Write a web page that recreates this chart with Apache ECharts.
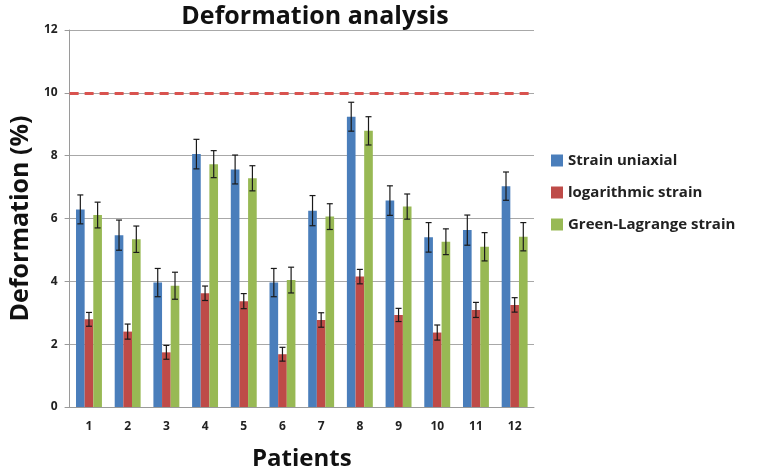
<!DOCTYPE html>
<html>
<head>
<meta charset="utf-8">
<script src="https://cdn.jsdelivr.net/npm/echarts@6/dist/echarts.min.js"></script>
<style>
  html, body { margin: 0; padding: 0; background: #fff; }
  #chart { width: 768px; height: 476px; }
</style>
</head>
<body>
<div id="chart"></div>
<script>
// Patients and measured deformation (%) per strain measure
const patients = ['1', '2', '3', '4', '5', '6', '7', '8', '9', '10', '11', '12'];
const seriesNames = ['Strain uniaxial', 'logarithmic strain', 'Green-Lagrange strain'];
const strainUniaxial = [6.29, 5.47, 3.96, 8.05, 7.56, 3.96, 6.25, 9.24, 6.57, 5.40, 5.63, 7.03];
const logarithmicStrain = [2.79, 2.40, 1.74, 3.62, 3.37, 1.68, 2.77, 4.15, 2.93, 2.37, 3.09, 3.25];
const greenLagrange = [6.11, 5.34, 3.86, 7.73, 7.28, 4.04, 6.06, 8.79, 6.38, 5.26, 5.10, 5.42];
// Standard deviations (error bar half-lengths)
const errUniaxial = [0.46, 0.48, 0.45, 0.47, 0.46, 0.45, 0.48, 0.46, 0.47, 0.47, 0.48, 0.45];
const errLogarithmic = [0.22, 0.24, 0.22, 0.23, 0.24, 0.22, 0.23, 0.23, 0.21, 0.24, 0.24, 0.23];
const errGreen = [0.41, 0.42, 0.43, 0.43, 0.40, 0.41, 0.41, 0.45, 0.40, 0.41, 0.45, 0.45];
const yTicks = [0, 2, 4, 6, 8, 10, 12];
const thresholdValue = 10;

const colors = ['#4a7ebb', '#be4b48', '#98b954'];
const categoryGap = 0.33;
const values = [strainUniaxial, logarithmicStrain, greenLagrange];
const errors = [errUniaxial, errLogarithmic, errGreen];

function errorSeries(idx) {
  const n = values.length;
  return {
    type: 'custom',
    z: 5,
    silent: true,
    data: patients.map((p, i) => [i, values[idx][i] - errors[idx][i], values[idx][i] + errors[idx][i]]),
    renderItem: function (params, api) {
      const band = api.size([1, 0])[0];
      const bw = band * (1 - categoryGap) / n;
      const offset = (idx - (n - 1) / 2) * bw;
      const lo = api.coord([api.value(0), api.value(1)]);
      const hi = api.coord([api.value(0), api.value(2)]);
      const x = lo[0] + offset;
      const cap = 3;
      const style = { stroke: '#1a1a1a', lineWidth: 1.2 };
      return {
        type: 'group',
        children: [
          { type: 'line', shape: { x1: x, y1: lo[1], x2: x, y2: hi[1] }, style: style },
          { type: 'line', shape: { x1: x - cap, y1: hi[1], x2: x + cap, y2: hi[1] }, style: style },
          { type: 'line', shape: { x1: x - cap, y1: lo[1], x2: x + cap, y2: lo[1] }, style: style }
        ]
      };
    }
  };
}

const chart = echarts.init(document.getElementById('chart'));
const font = '"Open Sans", "DejaVu Sans", sans-serif';

const barSeries = seriesNames.map((name, idx) => ({
  name: name,
  type: 'bar',
  data: values[idx],
  barGap: '0%',
  barCategoryGap: (categoryGap * 100) + '%',
  itemStyle: { color: colors[idx] },
  markLine: idx === 0 ? {
    silent: true,
    symbol: 'none',
    label: { show: false },
    lineStyle: { color: '#d9534f', type: [9, 6], width: 3 },
    data: [{ yAxis: thresholdValue }]
  } : undefined
}));

chart.setOption({
  animation: false,
  backgroundColor: '#fff',
  textStyle: { fontFamily: font },
  title: {
    text: 'Deformation analysis',
    left: 310,
    textAlign: 'center',
    top: -1,
    textStyle: { fontFamily: font, fontSize: 25, fontWeight: 'bold', color: '#111' }
  },
  legend: {
    orient: 'vertical',
    left: 546,
    top: 148,
    itemWidth: 12,
    itemHeight: 12,
    itemGap: 17,
    icon: 'rect',
    data: seriesNames,
    textStyle: { fontFamily: font, fontSize: 15, fontWeight: 'bold', color: '#222' }
  },
  grid: { left: 66, right: 234, top: 30, bottom: 69, containLabel: false },
  xAxis: {
    type: 'category',
    data: patients,
    name: 'Patients',
    nameLocation: 'middle',
    nameGap: 40,
    nameTextStyle: { fontFamily: font, fontSize: 24, fontWeight: 'bold', color: '#111' },
    axisLine: { lineStyle: { color: '#9a9a9a', width: 1 } },
    axisTick: { show: false },
    axisLabel: { fontFamily: font, fontSize: 12, fontWeight: 'bold', color: '#222', margin: 14 }
  },
  yAxis: {
    type: 'value',
    min: yTicks[0],
    max: yTicks[yTicks.length - 1],
    interval: 2,
    name: 'Deformation (%)',
    nameLocation: 'middle',
    nameGap: 36,
    nameTextStyle: { fontFamily: font, fontSize: 25, fontWeight: 'bold', color: '#111' },
    axisLine: { show: true, lineStyle: { color: '#9a9a9a', width: 1 } },
    axisTick: { show: true, length: 5, lineStyle: { color: '#9a9a9a' } },
    axisLabel: { fontFamily: font, fontSize: 12, fontWeight: 'bold', color: '#222', margin: 12 },
    splitLine: { lineStyle: { color: '#a8a8a8', width: 1 } }
  },
  series: barSeries.concat([errorSeries(0), errorSeries(1), errorSeries(2)])
});
</script>
</body>
</html>
